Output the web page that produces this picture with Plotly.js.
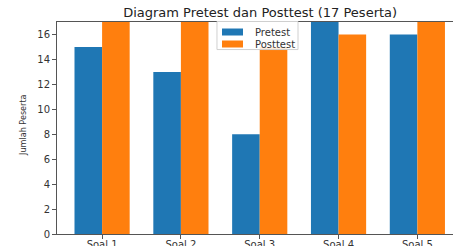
<!DOCTYPE html>
<html>
<head>
<meta charset="utf-8">
<script src="https://cdn.plot.ly/plotly-3.0.1.min.js"></script>
<style>html,body{margin:0;padding:0;background:#fff;}#chart{width:453px;height:246px;}</style>
</head>
<body>
<div id="chart"></div>
<script>
const categories = ["Soal 1", "Soal 2", "Soal 3", "Soal 4", "Soal 5"];
const pretest = [15, 13, 8, 17, 16];
const posttest = [17, 17, 15, 16, 17];
const yTicks = [0, 2, 4, 6, 8, 10, 12, 14, 16];
const seriesNames = ["Pretest", "Posttest"];
const seriesColors = ["#1f77b4", "#ff7f0e"];

const traces = [
  {type: "bar", name: seriesNames[0], x: categories, y: pretest, marker: {color: seriesColors[0]}},
  {type: "bar", name: seriesNames[1], x: categories, y: posttest, marker: {color: seriesColors[1]}}
];

// custom matplotlib-style legend (paper coordinates)
const shapes = [
  {type: "rect", xref: "paper", yref: "paper", x0: 0.404, x1: 0.6086, y0: 0.870, y1: 1.0024,
   line: {color: "#d0d0d0", width: 1}, fillcolor: "rgba(255,255,255,0.85)", layer: "above"}
];
const annotations = [];
const legendRowsY = [0.9528, 0.8962];
seriesNames.forEach((n, i) => {
  shapes.push({type: "rect", xref: "paper", yref: "paper", x0: 0.4167, x1: 0.4697,
               y0: legendRowsY[i] - 0.0165, y1: legendRowsY[i] + 0.0165,
               line: {width: 0}, fillcolor: seriesColors[i], layer: "above"});
  annotations.push({xref: "paper", yref: "paper", x: 0.4949, y: legendRowsY[i], xanchor: "left",
                    yanchor: "middle", text: n, showarrow: false, font: {size: 10, color: "#333"}});
});
annotations.push({xref: "paper", yref: "paper", x: -0.086, y: 0.514, xanchor: "center", yanchor: "middle",
                  text: "Jumlah Peserta", textangle: -90, showarrow: false,
                  font: {family: "DejaVu Sans Condensed, Liberation Sans Narrow, sans-serif", size: 9, color: "#333"}});

const layout = {
  width: 453, height: 246,
  margin: {l: 57, r: 0, t: 22, b: 12, pad: 0},
  paper_bgcolor: "#fff", plot_bgcolor: "#fff",
  font: {family: "DejaVu Sans, sans-serif", size: 10, color: "#333"},
  barmode: "group", bargap: 0.3, bargroupgap: 0,
  showlegend: false,
  title: {text: "Diagram Pretest dan Posttest (17 Peserta)", font: {size: 13, color: "#222"},
          x: 0.513, xref: "paper", xanchor: "center", y: 0.95, yanchor: "middle"},
  xaxis: {type: "category", range: [-0.572, 4.452], showline: true, linecolor: "#555", linewidth: 1,
          mirror: true, ticks: "outside", ticklen: 4, tickcolor: "#555", showgrid: false,
          zeroline: false, automargin: false, ticklabelstandoff: -3, tickfont: {size: 10, color: "#333"}},
  yaxis: {range: [0, 17], tickvals: yTicks, showline: true, linecolor: "#555", linewidth: 1,
          ticks: "outside", ticklen: 4, tickcolor: "#555", showgrid: false, zeroline: false,
          automargin: false, tickfont: {size: 10, color: "#333"}},
  shapes: shapes,
  annotations: annotations
};

Plotly.newPlot("chart", traces, layout, {staticPlot: true, displayModeBar: false});
</script>
</body>
</html>
